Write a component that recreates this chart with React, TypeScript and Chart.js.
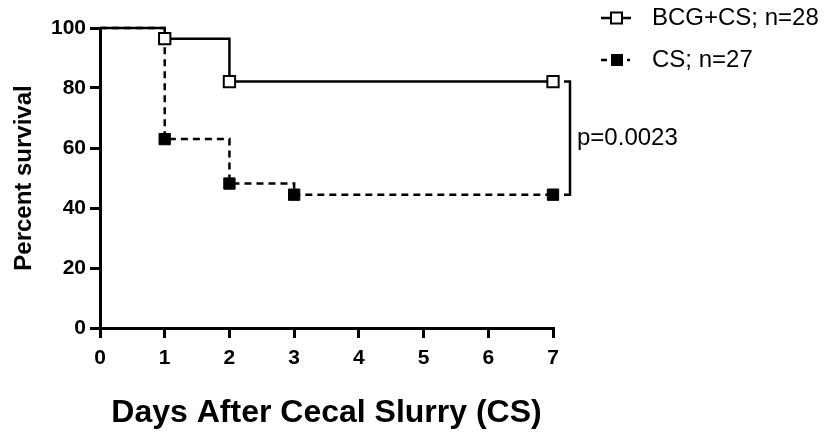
import React, { useEffect, useRef } from "react";
import { Chart, registerables } from "chart.js";

Chart.register(...registerables);

const bcgDays = [0, 1, 2, 7];
const bcgSurvival = [100, 96.43, 82.14, 82.14];
const csDays = [0, 1, 2, 3, 7];
const csSurvival = [100, 62.96, 48.15, 44.44, 44.44];
const xTicks = [0, 1, 2, 3, 4, 5, 6, 7];
const yTicks = [0, 20, 40, 60, 80, 100];
const seriesLabels = ["BCG+CS; n=28", "CS; n=27"];
const pValueText = "p=0.0023";
const xTitle = "Days After Cecal Slurry (CS)";
const yTitle = "Percent survival";

const FONT = "'Liberation Sans', Arial, Helvetica, sans-serif";

const extrasPlugin = {
  id: "extras",
  afterDraw(chart: any) {
    const ctx = chart.ctx;
    const xs = chart.scales.x;
    const ys = chart.scales.y;
    const area = chart.chartArea;
    ctx.save();
    // p-value bracket
    const bx = xs.getPixelForValue(7) + 17;
    const y1 = ys.getPixelForValue(bcgSurvival[bcgSurvival.length - 1]);
    const y2 = ys.getPixelForValue(csSurvival[csSurvival.length - 1]);
    ctx.strokeStyle = "#000";
    ctx.lineWidth = 2.5;
    ctx.setLineDash([]);
    ctx.beginPath();
    ctx.moveTo(bx - 6, y1);
    ctx.lineTo(bx, y1);
    ctx.lineTo(bx, y2);
    ctx.lineTo(bx - 6, y2);
    ctx.stroke();
    ctx.fillStyle = "#000";
    ctx.font = `24px ${FONT}`;
    ctx.textAlign = "left";
    ctx.textBaseline = "middle";
    ctx.fillText(pValueText, bx + 7, (y1 + y2) / 2);

    // legend
    const lx = area.right + 48;
    const tx = area.right + 99;
    const ly1 = area.top - 10;
    const ly2 = area.top + 32;
    // BCG
    ctx.lineWidth = 2.5;
    ctx.beginPath();
    ctx.moveTo(lx, ly1);
    ctx.lineTo(lx + 30, ly1);
    ctx.stroke();
    ctx.lineWidth = 2;
    ctx.fillStyle = "#fff";
    ctx.fillRect(lx + 10, ly1 - 5.5, 11, 11);
    ctx.strokeRect(lx + 10, ly1 - 5.5, 11, 11);
    // CS
    ctx.lineWidth = 2.5;
    ctx.beginPath();
    ctx.moveTo(lx, ly2);
    ctx.lineTo(lx + 6, ly2);
    ctx.moveTo(lx + 26, ly2);
    ctx.lineTo(lx + 29, ly2);
    ctx.stroke();
    ctx.fillStyle = "#000";
    ctx.fillRect(lx + 10, ly2 - 6, 12, 12);
    ctx.font = `24px ${FONT}`;
    ctx.fillStyle = "#000";
    ctx.fillText(seriesLabels[0], tx, ly1);
    ctx.fillText(seriesLabels[1], tx, ly2);
    ctx.restore();
  },
};

export default function App() {
  const ref = useRef<HTMLCanvasElement>(null);
  useEffect(() => {
    document.body.style.margin = "0";
    const canvas = ref.current!;
    const pr = (c: any) => (c.dataIndex === 0 ? 0 : 8);
    const chart = new Chart(canvas, {
      type: "line",
      data: {
        datasets: [
          {
            label: seriesLabels[0],
            data: bcgDays.map((d, i) => ({ x: d, y: bcgSurvival[i] })),
            stepped: "before",
            borderColor: "#000",
            borderWidth: 2.5,
            pointStyle: "rect",
            pointRadius: pr,
            pointBackgroundColor: "#fff",
            pointBorderColor: "#000",
            pointBorderWidth: 2,
            fill: false,
            clip: false,
          },
          {
            label: seriesLabels[1],
            data: csDays.map((d, i) => ({ x: d, y: csSurvival[i] })),
            stepped: "before",
            borderColor: "#000",
            borderWidth: 2.5,
            borderDash: [7, 5],
            pointStyle: "rect",
            pointRadius: pr,
            pointBackgroundColor: "#000",
            pointBorderColor: "#000",
            pointBorderWidth: 1,
            fill: false,
            clip: false,
          },
        ],
      },
      options: {
        animation: false,
        responsive: false,
        devicePixelRatio: 1,
        layout: { padding: { left: 0, right: 275, top: 28, bottom: 0 } },
        plugins: { legend: { display: false }, tooltip: { enabled: false } },
        scales: {
          x: {
            type: "linear",
            min: 0,
            max: 7,
            afterBuildTicks: (s: any) => {
              s.ticks = xTicks.map((v) => ({ value: v }));
            },
            afterFit: (s: any) => {
              s.height = 104;
            },
            ticks: {
              color: "#000",
              font: { family: FONT, size: 21, weight: "bold" },
              padding: 8,
              maxRotation: 0,
            },
            grid: {
              display: true,
              drawOnChartArea: false,
              drawTicks: true,
              tickLength: 10,
              color: "#000",
              lineWidth: 3,
            },
            border: { display: true, color: "#000", width: 3 },
            title: {
              display: true,
              text: xTitle,
              color: "#000",
              font: { family: FONT, size: 32, weight: "bold" },
              padding: { top: 16, bottom: 0 },
            },
          },
          y: {
            type: "linear",
            min: 0,
            max: 100,
            afterBuildTicks: (s: any) => {
              s.ticks = yTicks.map((v) => ({ value: v }));
            },
            afterFit: (s: any) => {
              s.width = 100;
            },
            ticks: {
              color: "#000",
              font: { family: FONT, size: 21, weight: "bold" },
              padding: 4,
            },
            grid: {
              display: true,
              drawOnChartArea: false,
              drawTicks: true,
              tickLength: 10,
              color: "#000",
              lineWidth: 3,
            },
            border: { display: true, color: "#000", width: 3 },
            title: {
              display: true,
              text: yTitle,
              color: "#000",
              font: { family: FONT, size: 24, weight: "bold" },
              padding: { top: 10, bottom: 4 },
            },
          },
        },
      },
      plugins: [extrasPlugin],
    } as any);
    return () => chart.destroy();
  }, []);
  return (
    <div style={{ width: 828, height: 432 }}>
      <canvas ref={ref} width={828} height={432} style={{ display: "block" }} />
    </div>
  );
}
